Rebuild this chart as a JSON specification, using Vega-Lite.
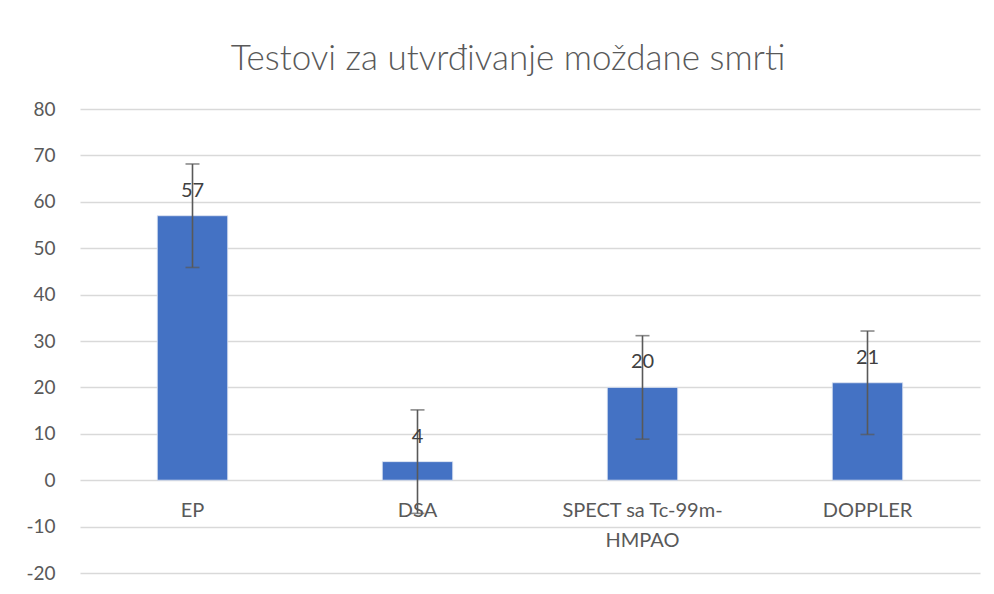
{
  "$schema": "https://vega.github.io/schema/vega-lite/v6.json",
  "autosize": "none",
  "width": 900,
  "height": 464,
  "padding": {"left": 80, "top": 109, "right": 14, "bottom": 21},
  "background": "white",
  "title": {
    "text": "Testovi za utvrđivanje moždane smrti",
    "anchor": "middle",
    "dx": -22,
    "offset": 23,
    "font": "Lato",
    "fontSize": 35,
    "fontWeight": 300,
    "color": "#595959"
  },
  "data": {
    "values": [
      {"test": "EP", "value": 57, "err": 11.15},
      {"test": "DSA", "value": 4, "err": 11.15},
      {"test": "SPECT sa Tc-99m-HMPAO", "value": 20, "err": 11.15},
      {"test": "DOPPLER", "value": 21, "err": 11.15}
    ]
  },
  "transform": [
    {"calculate": "datum.value - datum.err", "as": "lo"},
    {"calculate": "datum.value + datum.err", "as": "hi"}
  ],
  "encoding": {
    "x": {
      "field": "test",
      "type": "nominal",
      "sort": null,
      "title": null,
      "scale": {"paddingInner": 0.687, "paddingOuter": 0.3435},
      "axis": {
        "orient": "bottom",
        "offset": -93,
        "domain": false,
        "ticks": false,
        "labelAngle": 0,
        "labelFont": "Lato",
        "labelFontSize": 20,
        "labelColor": "#595959",
        "labelPadding": 20,
        "labelLineHeight": 30,
        "labelLimit": 300,
        "labelExpr": "datum.label == 'SPECT sa Tc-99m-HMPAO' ? ['SPECT sa Tc-99m-', 'HMPAO'] : datum.label"
      }
    }
  },
  "layer": [
    {
      "mark": {"type": "bar", "color": "#4472C4", "stroke": "#dfe6f3", "strokeWidth": 0.8},
      "encoding": {
        "y": {
          "field": "value",
          "type": "quantitative",
          "title": null,
          "scale": {"domain": [-20, 80], "nice": false, "zero": false},
          "axis": {
            "values": [-20, -10, 0, 10, 20, 30, 40, 50, 60, 70, 80],
            "domain": false,
            "ticks": false,
            "gridColor": "#d9d9d9",
            "gridWidth": 1.3,
            "labelFont": "Lato",
            "labelFontSize": 19,
            "labelColor": "#595959",
            "labelPadding": 25,
            "labelExpr": "replace(datum.label, '−', '-')"
          }
        }
      }
    },
    {
      "mark": {"type": "rule", "color": "#595959", "strokeWidth": 1.6},
      "encoding": {
        "y": {"field": "lo", "type": "quantitative"},
        "y2": {"field": "hi"}
      }
    },
    {
      "mark": {"type": "tick", "color": "#595959", "thickness": 1.6, "size": 14, "orient": "horizontal"},
      "encoding": {"y": {"field": "lo", "type": "quantitative"}}
    },
    {
      "mark": {"type": "tick", "color": "#595959", "thickness": 1.6, "size": 14, "orient": "horizontal"},
      "encoding": {"y": {"field": "hi", "type": "quantitative"}}
    },
    {
      "mark": {"type": "text", "font": "Lato", "fontSize": 20, "color": "#404040", "baseline": "middle", "dy": -25},
      "encoding": {
        "y": {"field": "value", "type": "quantitative"},
        "text": {"field": "value", "type": "quantitative"}
      }
    }
  ],
  "config": {"view": {"stroke": null}}
}
